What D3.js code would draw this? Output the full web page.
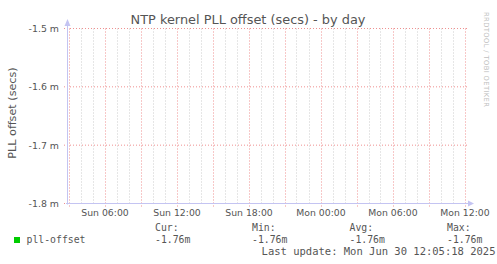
<!DOCTYPE html>
<html>
<head>
<meta charset="utf-8">
<script src="https://cdn.jsdelivr.net/npm/d3@7"></script>
<style>
  body { margin: 0; background: #fff; }
  svg { display: block; }
  text { fill: #555; font-family: "DejaVu Sans", sans-serif; }
  .mono { font-family: "DejaVu Sans Mono", monospace; }
</style>
</head>
<body>
<svg></svg>
<script>
// data
const yTicks = [-1.8e-3, -1.7e-3, -1.6e-3, -1.5e-3]
const timeStart = "2025-06-29T02:52:30Z"
const timeEnd = "2025-06-30T12:12:30Z"
const seriesNames = ["pll-offset"]
const seriesColors = ["#00cc00"]
const statLabels = ["Cur:", "Min:", "Avg:", "Max:"]
const statValues = [-1.76e-3, -1.76e-3, -1.76e-3, -1.76e-3]
const lastUpdate = "Last update: Mon Jun 30 12:05:18 2025"

const W = 497, H = 264
const svg = d3.select("svg").attr("width", W).attr("height", H)

const x = d3.scaleUtc()
	.domain([new Date(timeStart), new Date(timeEnd)])
	.range([67, 467])

const y = d3.scaleLinear()
	.domain([-1.8e-3, -1.5e-3])
	.range([203.5, 28.5])

const fmtTime = d3.utcFormat("%a %H:%M")
const fmtY = v => (v * 1000).toFixed(1) + " m"
const fmtStat = v => (v * 1000).toFixed(2) + "m"

const plotTop = y.range()[1], plotBottom = y.range()[0]

// vertical grid: minor every hour, major every 3 hours, labels every 6
const minor = x.ticks(d3.utcHour.every(1))
const major = x.ticks(d3.utcHour.every(3))
const labelled = x.ticks(d3.utcHour.every(6))

svg.append("g")
	.selectAll("line")
	.data(minor.filter(d => d.getUTCHours() % 3 !== 0))
	.enter()
	.append("line")
	.attr("x1", d => Math.round(x(d)) + 0.5)
	.attr("x2", d => Math.round(x(d)) + 0.5)
	.attr("y1", plotTop)
	.attr("y2", plotBottom + 2)
	.attr("stroke", "#cccccc")
	.attr("stroke-dasharray", "1,2")

svg.append("g")
	.selectAll("line")
	.data(major)
	.enter()
	.append("line")
	.attr("x1", d => Math.round(x(d)) + 0.5)
	.attr("x2", d => Math.round(x(d)) + 0.5)
	.attr("y1", plotTop)
	.attr("y2", plotBottom + 3)
	.attr("stroke", "#ef9090")
	.attr("stroke-dasharray", "1,2")

// horizontal grid
svg.append("g")
	.selectAll("line")
	.data(yTicks)
	.enter()
	.append("line")
	.attr("x1", 64)
	.attr("x2", 469)
	.attr("y1", d => y(d))
	.attr("y2", d => y(d))
	.attr("stroke", "#ef9090")
	.attr("stroke-dasharray", "1,2")

// axes
const axisColor = "#c4c4f2"
svg.append("line")
	.attr("x1", 67.5).attr("x2", 67.5)
	.attr("y1", plotBottom + 1).attr("y2", 24)
	.attr("stroke", axisColor)
svg.append("line")
	.attr("x1", 66).attr("x2", 470)
	.attr("y1", plotBottom).attr("y2", plotBottom)
	.attr("stroke", axisColor)
svg.append("path")
	.attr("d", "M64.5,26 L70.5,26 L67.5,19 Z")
	.attr("fill", axisColor)
svg.append("path")
	.attr("d", "M468,200.5 L468,206.5 L474,203.5 Z")
	.attr("fill", axisColor)

// y labels
svg.append("g")
	.selectAll("text")
	.data(yTicks)
	.enter()
	.append("text")
	.attr("x", 59)
	.attr("y", d => y(d) + 3.5)
	.attr("text-anchor", "end")
	.style("font-size", "9.4px")
	.text(d => fmtY(d))

// x labels
svg.append("g")
	.selectAll("text")
	.data(labelled)
	.enter()
	.append("text")
	.attr("x", d => x(d) + 0.5)
	.attr("y", 216)
	.attr("text-anchor", "middle")
	.style("font-size", "9.3px")
	.text(d => fmtTime(d))

// title
svg.append("text")
	.attr("x", 248)
	.attr("y", 24)
	.attr("text-anchor", "middle")
	.style("font-size", "12.9px")
	.text("NTP kernel PLL offset (secs) - by day")

// y title
svg.append("text")
	.attr("transform", "translate(15.5,113) rotate(-90)")
	.attr("text-anchor", "middle")
	.style("font-size", "11.2px")
	.text("PLL offset (secs)")

// watermark
svg.append("text")
	.attr("transform", "translate(484,12) rotate(90)")
	.attr("textLength", 95)
	.style("font-size", "6.8px")
	.style("fill", "#c0c0c0")
	.text("RRDTOOL / TOBI OETIKER")

// legend
const statX = [155, 252, 349.5, 447]
const legend = svg.append("g")

legend.selectAll("rect")
	.data(seriesNames)
	.enter()
	.append("rect")
	.attr("x", 14)
	.attr("y", 237)
	.attr("width", 6)
	.attr("height", 6)
	.attr("fill", (d, i) => seriesColors[i])

legend.selectAll("text.name")
	.data(seriesNames)
	.enter()
	.append("text")
	.attr("class", "name mono")
	.attr("x", 26.5)
	.attr("y", 243)
	.style("font-size", "9.8px")
	.text(d => d)

legend.selectAll("text.head")
	.data(statLabels)
	.enter()
	.append("text")
	.attr("class", "head mono")
	.attr("x", (d, i) => statX[i])
	.attr("y", 231)
	.style("font-size", "9.8px")
	.text(d => d)

legend.selectAll("text.val")
	.data(statValues)
	.enter()
	.append("text")
	.attr("class", "val mono")
	.attr("x", (d, i) => statX[i])
	.attr("y", 243)
	.style("font-size", "9.8px")
	.text(d => fmtStat(d))

legend.append("text")
	.attr("class", "mono")
	.attr("x", 495.5)
	.attr("y", 255)
	.attr("text-anchor", "end")
	.style("font-size", "10.5px")
	.text(lastUpdate)
</script>
</body>
</html>
